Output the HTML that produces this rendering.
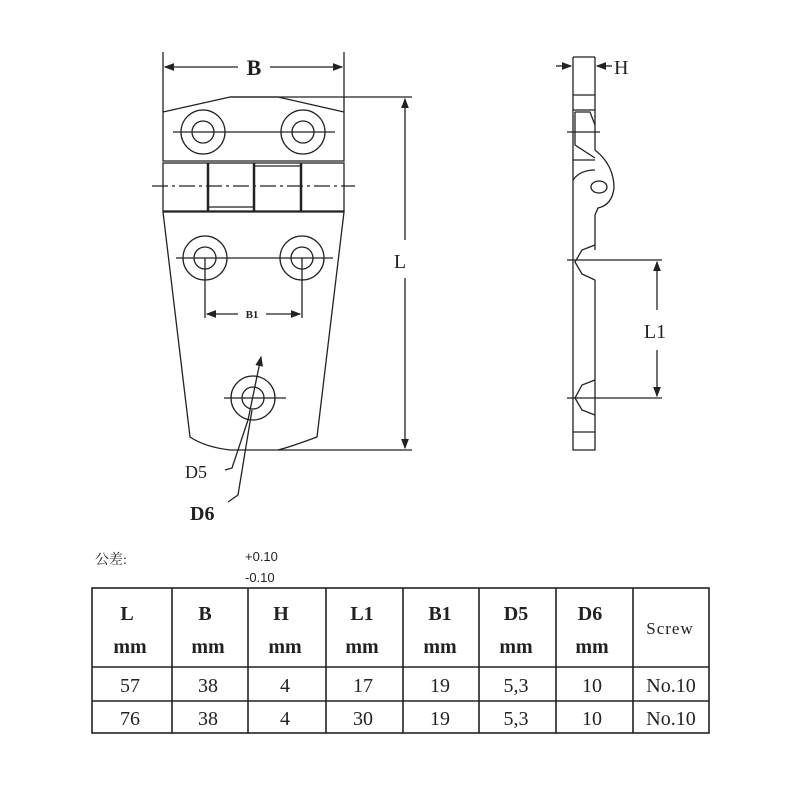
<!DOCTYPE html>
<html><head><meta charset="utf-8"><style>body{margin:0;background:#fff}svg{display:block}</style></head><body>
<svg width="800" height="800" viewBox="0 0 800 800" xmlns="http://www.w3.org/2000/svg" font-family="Liberation Serif, serif" fill="none" stroke="#222" stroke-width="1.3">
<defs><marker id="a" markerWidth="8" markerHeight="6" refX="7" refY="3" orient="auto-start-reverse"><path d="M0,0L8,3L0,6z" fill="#222" stroke="none"/></marker></defs>
<!-- B dim -->
<line x1="163" y1="52" x2="163" y2="112"/><line x1="344" y1="52" x2="344" y2="112"/>
<line x1="165" y1="67" x2="238" y2="67" marker-start="url(#a)"/><line x1="270" y1="67" x2="342" y2="67" marker-end="url(#a)"/>
<text x="254" y="75" font-size="22" font-weight="bold" fill="#222" stroke="none" text-anchor="middle">B</text>
<!-- top leaf -->
<path d="M163,112 L230,97 L278,97 L344,112 L344,161 L163,161 Z"/>
<line x1="230" y1="97" x2="412" y2="97"/>
<circle cx="203" cy="132" r="22"/><circle cx="203" cy="132" r="11"/>
<circle cx="303" cy="132" r="22"/><circle cx="303" cy="132" r="11"/>
<line x1="173" y1="132" x2="335" y2="132"/>
<!-- hinge band -->
<rect x="163" y="163" width="181" height="48"/>
<line x1="208" y1="163" x2="208" y2="211" stroke-width="2.5"/><line x1="254" y1="163" x2="254" y2="211" stroke-width="2.5"/><line x1="301" y1="163" x2="301" y2="211" stroke-width="2.5"/>
<line x1="208" y1="207" x2="254" y2="207"/><line x1="254" y1="166" x2="301" y2="166"/>
<line x1="152" y1="186" x2="355" y2="186" stroke-dasharray="16,4,3,4"/>
<!-- lower leaf -->
<path d="M163,212 L344,212 L317,437 Q290,447 278,450 L230,450 Q205,447 190,437 Z"/>
<line x1="278" y1="450" x2="412" y2="450"/>
<circle cx="205" cy="258" r="22"/><circle cx="205" cy="258" r="11"/>
<circle cx="302" cy="258" r="22"/><circle cx="302" cy="258" r="11"/>
<line x1="176" y1="258" x2="333" y2="258"/>
<line x1="205" y1="258" x2="205" y2="318"/><line x1="302" y1="258" x2="302" y2="318"/>
<line x1="207" y1="314" x2="238" y2="314" marker-start="url(#a)"/><line x1="266" y1="314" x2="300" y2="314" marker-end="url(#a)"/>
<text x="252" y="318" font-size="11" font-weight="bold" fill="#222" stroke="none" text-anchor="middle">B1</text>
<circle cx="253" cy="398" r="22"/><circle cx="253" cy="398" r="11"/>
<line x1="224" y1="398" x2="286" y2="398"/>
<line x1="261" y1="357" x2="248" y2="420" marker-start="url(#a)"/>
<path d="M248,420 L232,468 L225,470"/>
<path d="M252,410 L238,495 L228,502"/>
<text x="185" y="478" font-size="18" fill="#222" stroke="none">D5</text>
<text x="190" y="520" font-size="20" font-weight="bold" fill="#222" stroke="none">D6</text>
<!-- L dim -->
<line x1="405" y1="99" x2="405" y2="240" marker-start="url(#a)"/><line x1="405" y1="278" x2="405" y2="448" marker-end="url(#a)"/>
<text x="400" y="268" font-size="20" fill="#222" stroke="none" text-anchor="middle">L</text>
<!-- side view -->
<line x1="556" y1="66" x2="571" y2="66" marker-end="url(#a)"/><line x1="597" y1="66" x2="612" y2="66" marker-start="url(#a)"/>
<text x="614" y="74" font-size="20" fill="#222" stroke="none">H</text>
<path d="M573,57 L573,450 L595,450 L595,280 M595,57 L595,150"/>
<line x1="573" y1="57" x2="595" y2="57"/>
<line x1="573" y1="95" x2="595" y2="95"/><line x1="573" y1="110" x2="595" y2="110"/>
<path d="M575,112 L590,112 L595,125 M575,112 L575,145 L595,158"/>
<line x1="567" y1="132" x2="600" y2="132"/>
<line x1="573" y1="160" x2="595" y2="160"/>
<path d="M595,150 Q614,165 614,188 Q612,205 598,208 L595,215 L595,250"/>
<path d="M573,180 Q580,170 595,170"/>
<ellipse cx="599" cy="187" rx="8" ry="6"/>
<path d="M595,245 L582,250 L575,262 L582,274 L595,280"/>
<line x1="567" y1="260" x2="662" y2="260"/>
<path d="M595,380 L582,385 L575,398 L582,410 L595,415"/>
<line x1="567" y1="398" x2="662" y2="398"/>
<line x1="573" y1="432" x2="595" y2="432"/>
<line x1="657" y1="262" x2="657" y2="310" marker-start="url(#a)"/><line x1="657" y1="350" x2="657" y2="396" marker-end="url(#a)"/>
<text x="655" y="338" font-size="20" fill="#222" stroke="none" text-anchor="middle">L1</text>
<!-- tolerance -->
<text x="95" y="564" font-size="14" fill="#222" stroke="none" font-family="Liberation Serif, Noto Serif CJK SC, serif">公差:</text>
<text x="245" y="561" font-size="13" fill="#222" stroke="none" font-family="Liberation Sans, sans-serif">+0.10</text>
<text x="245" y="582" font-size="13" fill="#222" stroke="none" font-family="Liberation Sans, sans-serif">-0.10</text>
<!-- table -->
<g stroke-width="1.6">
<rect x="92" y="588" width="617" height="145"/>
<line x1="92" y1="667" x2="709" y2="667"/><line x1="92" y1="701" x2="709" y2="701"/>
<line x1="172" y1="588" x2="172" y2="733"/><line x1="248" y1="588" x2="248" y2="733"/><line x1="326" y1="588" x2="326" y2="733"/><line x1="403" y1="588" x2="403" y2="733"/><line x1="479" y1="588" x2="479" y2="733"/><line x1="556" y1="588" x2="556" y2="733"/><line x1="633" y1="588" x2="633" y2="733"/>
</g>
<g fill="#222" stroke="none" font-size="20" text-anchor="middle">
<g font-weight="bold">
<text x="127" y="620">L</text><text x="205" y="620">B</text><text x="281" y="620">H</text><text x="362" y="620">L1</text><text x="440" y="620">B1</text><text x="516" y="620">D5</text><text x="590" y="620">D6</text>
<text x="130" y="653">mm</text><text x="208" y="653">mm</text><text x="285" y="653">mm</text><text x="362" y="653">mm</text><text x="440" y="653">mm</text><text x="516" y="653">mm</text><text x="592" y="653">mm</text>
</g>
<text x="670" y="634" font-size="17" letter-spacing="1">Screw</text>
<text x="130" y="692">57</text><text x="208" y="692">38</text><text x="285" y="692">4</text><text x="363" y="692">17</text><text x="440" y="692">19</text><text x="516" y="692">5,3</text><text x="592" y="692">10</text><text x="671" y="692">No.10</text>
<text x="130" y="725">76</text><text x="208" y="725">38</text><text x="285" y="725">4</text><text x="363" y="725">30</text><text x="440" y="725">19</text><text x="516" y="725">5,3</text><text x="592" y="725">10</text><text x="671" y="725">No.10</text>
</g>
</svg>
</body></html>
